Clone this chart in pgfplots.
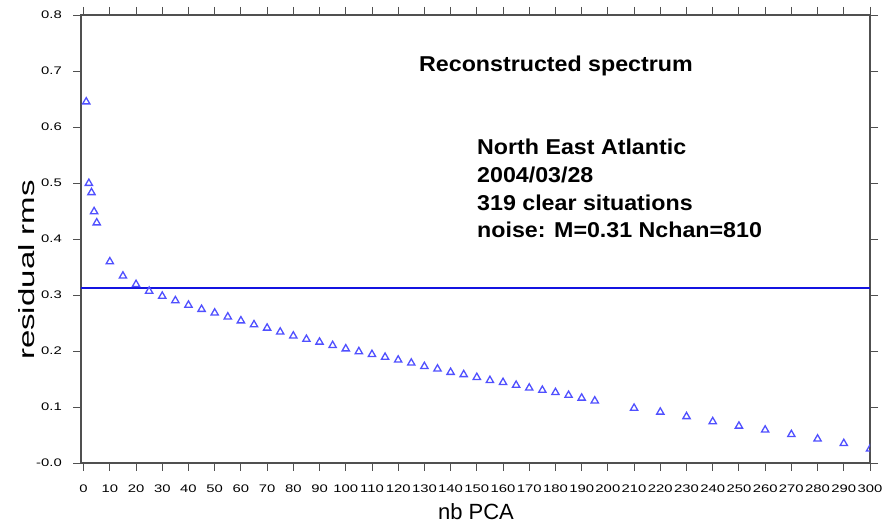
\documentclass[border=0pt]{standalone}
\usepackage{fontspec}
\setmainfont{Liberation Sans}
\newfontfamily\tickfont[FakeStretch=1.35]{Liberation Sans}
\newfontfamily\annfont[FakeStretch=1.08]{Liberation Sans}
\newfontfamily\labfont[FakeStretch=1.5]{Liberation Sans}
\usepackage{pgfplots}
\pgfplotsset{compat=1.18}
\definecolor{markblue}{RGB}{80,80,255}
\definecolor{lineblue}{RGB}{20,20,225}
\definecolor{axgray}{RGB}{80,80,80}
\begin{document}
\begin{tikzpicture}
\path[use as bounding box] (0pt,0pt) rectangle (895pt,524pt);
\begin{axis}[
  at={(81pt,61pt)}, anchor=south west,
  scale only axis, width=789pt, height=448pt,
  xmin=-1, xmax=300, ymin=0, ymax=0.8,
  xtick={0,10,...,300},
  ytick={0,0.1,0.2,0.3,0.4,0.5,0.6,0.7,0.8},
  yticklabels={-0.0,0.1,0.2,0.3,0.4,0.5,0.6,0.7,0.8},
  /pgf/number format/assume math mode=true,
  tick align=outside,
  major tick length=8pt,
  tick style={axgray, line width=0.9pt},
  axis line style={axgray, line width=1.8pt},
  xticklabel style={font=\tickfont\fontsize{11}{13}\selectfont, anchor=north, inner sep=0pt, yshift=-14pt},
  yticklabel style={font=\tickfont\fontsize{11}{13}\selectfont, anchor=east, inner sep=0pt, xshift=-11pt},
  clip marker paths=true,
]
\addplot[lineblue, line width=1.5pt, forget plot] coordinates {(-1,0.3125) (300,0.3125)};
\addplot[only marks, mark=triangle, mark size=4.2pt, mark options={draw=markblue, line width=1.3pt, fill=none}] table {
x y
1 0.645
2 0.4995
3 0.483
4 0.449
5 0.429
10 0.3595
15 0.334
20 0.319
25 0.307
30 0.298
35 0.290
40 0.282
45 0.2745
50 0.268
55 0.261
60 0.254
65 0.247
70 0.241
75 0.234
80 0.227
85 0.221
90 0.216
95 0.210
100 0.204
105 0.199
110 0.194
115 0.189
120 0.184
125 0.1786
130 0.1725
135 0.168
140 0.162
145 0.158
150 0.153
155 0.1475
160 0.144
165 0.139
170 0.134
175 0.130
180 0.126
185 0.121
190 0.116
195 0.111
210 0.098
220 0.091
230 0.083
240 0.074
250 0.066
260 0.059
270 0.051
280 0.043
290 0.035
300 0.025
};
\end{axis}
\node[anchor=base west, inner sep=0pt, font=\annfont\bfseries\fontsize{21.5}{24}\selectfont] at (419pt,452pt) {Reconstructed spectrum};
\node[anchor=base west, inner sep=0pt, font=\annfont\bfseries\fontsize{21.5}{24}\selectfont] at (477pt,369pt) {North East Atlantic};
\node[anchor=base west, inner sep=0pt, font=\annfont\bfseries\fontsize{21.5}{24}\selectfont] at (477pt,341pt) {2004/03/28};
\node[anchor=base west, inner sep=0pt, font=\annfont\bfseries\fontsize{21.5}{24}\selectfont] at (477pt,313pt) {319 clear situations};
\node[anchor=base west, inner sep=0pt, font=\annfont\bfseries\fontsize{21.5}{24}\selectfont] at (477pt,286pt) {noise: M=0.31 Nchan=810};
\node[anchor=base, inner sep=0pt, font=\fontsize{22}{26}\selectfont] at (476pt,4pt) {nb PCA};
\node[anchor=base, inner sep=0pt, rotate=90, font=\labfont\fontsize{22}{26}\selectfont] at (35pt,254pt) {residual rms};
\end{tikzpicture}
\end{document}
